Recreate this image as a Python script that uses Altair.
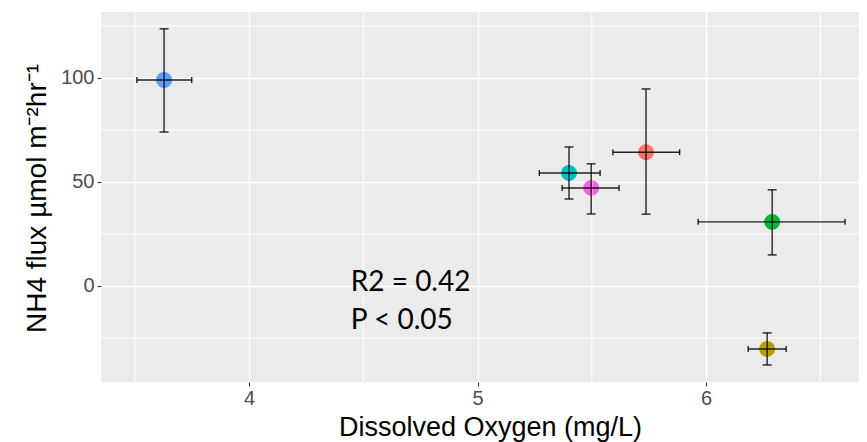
import altair as alt
import pandas as pd

sites = ["A", "B", "C", "D", "E", "F"]
colors = ["#619CFF", "#F8766D", "#00BFC4", "#F564E3", "#00BA38", "#B79F00"]
do_mean = [3.628, 5.737, 5.40, 5.497, 6.289, 6.267]
do_lo = [3.509, 5.592, 5.27, 5.37, 5.965, 6.184]
do_hi = [3.749, 5.884, 5.536, 5.619, 6.608, 6.35]
nh4_mean = [99.0, 64.3, 54.3, 47.1, 30.8, -30.3]
nh4_lo = [74.0, 34.5, 41.8, 34.6, 14.9, -38.0]
nh4_hi = [123.6, 94.7, 66.8, 58.7, 46.2, -22.6]

x_major = [4, 5, 6]
x_minor = [3.5, 4.5, 5.5, 6.5]
y_major = [0, 50, 100]
y_minor = [-25, 25, 75, 125]

ann_text = ["R2 = 0.42", "P < 0.05"]
ann_x = [4.445, 4.445]
ann_y = [-2.3, -20.7]

df = pd.DataFrame({"site": sites, "do": do_mean, "do_lo": do_lo, "do_hi": do_hi,
                   "nh4": nh4_mean, "nh4_lo": nh4_lo, "nh4_hi": nh4_hi})
ann = pd.DataFrame({"t": ann_text, "x": ann_x, "y": ann_y})
mx = pd.DataFrame({"v": x_minor})
my = pd.DataFrame({"v": y_minor})

xs = alt.Scale(domain=[3.352, 6.669], nice=False, zero=False)
ys = alt.Scale(domain=[-46.2, 131.7], nice=False, zero=False)

x_axis = alt.Axis(values=x_major, format="d", title="Dissolved Oxygen (mg/L)",
                  titleFont="Liberation Sans",
                  titleFontSize=27, titleFontWeight="normal", titleColor="black",
                  titleX=389, titleY=53, titleBaseline="alphabetic", titleAlign="center",
                  labelFont="Liberation Sans", labelFontSize=20, labelColor="#4D4D4D",
                  labelPadding=2, tickColor="#333333", tickSize=4, tickWidth=1.1,
                  domain=False, gridColor="white", gridWidth=1.5)
y_axis = alt.Axis(values=y_major, format="d", title="NH4 flux µmol m⁻²hr⁻¹",
                  titleFont="Liberation Sans",
                  titleFontSize=28, titleFontWeight="normal", titleColor="black",
                  titleAngle=270, titleX=-56, titleY=186, titleBaseline="alphabetic",
                  titleAlign="center",
                  labelFont="Liberation Sans", labelFontSize=20, labelColor="#4D4D4D",
                  labelPadding=3, tickColor="#333333", tickSize=4, tickWidth=1.1,
                  domain=False, gridColor="white", gridWidth=1.5)

base = alt.Chart(df)

minor_x = alt.Chart(mx).mark_rule(color="white", strokeWidth=1.0).encode(
    x=alt.X("v:Q", scale=xs))
minor_y = alt.Chart(my).mark_rule(color="white", strokeWidth=1.0).encode(
    y=alt.Y("v:Q", scale=ys))

points = base.mark_circle(size=254, opacity=1).encode(
    x=alt.X("do:Q", scale=xs, axis=x_axis),
    y=alt.Y("nh4:Q", scale=ys, axis=y_axis),
    color=alt.Color("site:N", scale=alt.Scale(domain=sites, range=colors), legend=None),
)

eb = dict(color="black", strokeWidth=1.4, opacity=0.85)
vbar = base.mark_rule(**eb).encode(
    x=alt.X("do:Q", scale=xs),
    y=alt.Y("nh4_lo:Q", scale=ys), y2="nh4_hi:Q")
hbar = base.mark_rule(**eb).encode(
    y=alt.Y("nh4:Q", scale=ys),
    x=alt.X("do_lo:Q", scale=xs), x2="do_hi:Q")

tk = dict(color="black", thickness=1.4, opacity=0.85)
cap_lo = base.mark_tick(orient="horizontal", size=9, **tk).encode(
    x=alt.X("do:Q", scale=xs), y=alt.Y("nh4_lo:Q", scale=ys))
cap_hi = base.mark_tick(orient="horizontal", size=9, **tk).encode(
    x=alt.X("do:Q", scale=xs), y=alt.Y("nh4_hi:Q", scale=ys))
cap_l = base.mark_tick(orient="vertical", size=6, **tk).encode(
    x=alt.X("do_lo:Q", scale=xs), y=alt.Y("nh4:Q", scale=ys))
cap_r = base.mark_tick(orient="vertical", size=6, **tk).encode(
    x=alt.X("do_hi:Q", scale=xs), y=alt.Y("nh4:Q", scale=ys))

text = alt.Chart(ann).mark_text(align="left", baseline="alphabetic", font="Lato",
                                fontSize=28, color="black").encode(
    x=alt.X("x:Q", scale=xs), y=alt.Y("y:Q", scale=ys), text="t:N")

chart = alt.layer(points, minor_x, minor_y, vbar, hbar, cap_lo, cap_hi, cap_l, cap_r, text).properties(
    width=758, height=370,
    padding={"left": 93, "top": 4, "right": 0, "bottom": 70},
    autosize=alt.AutoSizeParams(type="none"),
    background="white",
).configure_view(fill="#EBEBEB", stroke=None)

chart.save("out.html", embed_options={"renderer": "svg", "actions": False})
